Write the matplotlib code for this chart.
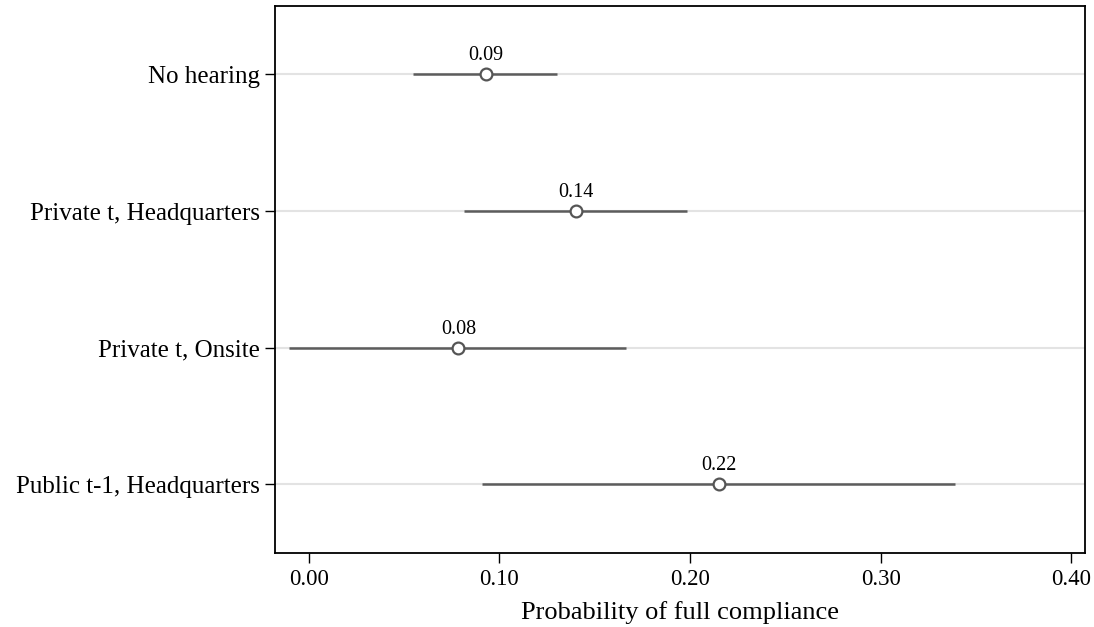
import matplotlib.pyplot as plt

plt.rcParams['font.family'] = ['Liberation Serif', 'DejaVu Serif']

labels = ['No hearing', 'Private t, Headquarters', 'Private t, Onsite', 'Public t-1, Headquarters']
est = [0.0928, 0.1400, 0.0785, 0.2152]
lo = [0.0549, 0.0814, -0.0102, 0.0909]
hi = [0.1304, 0.1985, 0.1667, 0.3392]
xticks = [0.0, 0.1, 0.2, 0.3, 0.4]

fig = plt.figure(figsize=(10.94, 6.27), dpi=100)
ax = fig.add_axes([0.2514, 0.1185, 0.7408, 0.8719])

ypos = list(range(1, len(labels) + 1))
for y in ypos:
    ax.axhline(y, color='#e3e3e3', lw=1.5, zorder=0)

ax.hlines(ypos, lo, hi, color='#5c5c5c', lw=1.8, zorder=2)
ax.plot(est, ypos, 'o', ms=8.5, mfc='white', mec='#555555', mew=1.6, zorder=3)
for x, y in zip(est, ypos):
    ax.annotate(f'{x:.2f}', (x, y), xytext=(0, 10), textcoords='offset points',
                ha='center', va='baseline', fontsize=14.5)

ax.set_xlim(-0.0177, 0.4075)
ax.set_ylim(4.5, 0.5)
ax.set_yticks(ypos)
ax.set_yticklabels(labels, fontsize=18)
ax.set_xticks(xticks)
ax.set_xticklabels([f'{t:.2f}' for t in xticks], fontsize=16.5)
ax.tick_params(length=7, width=1)
ax.tick_params(axis='y', pad=4)
ax.tick_params(axis='x', pad=5)
ax.set_xlabel('Probability of full compliance', fontsize=19, labelpad=8)
for s in ax.spines.values():
    s.set_linewidth(1.3)

fig.savefig('out.png', dpi=100)
